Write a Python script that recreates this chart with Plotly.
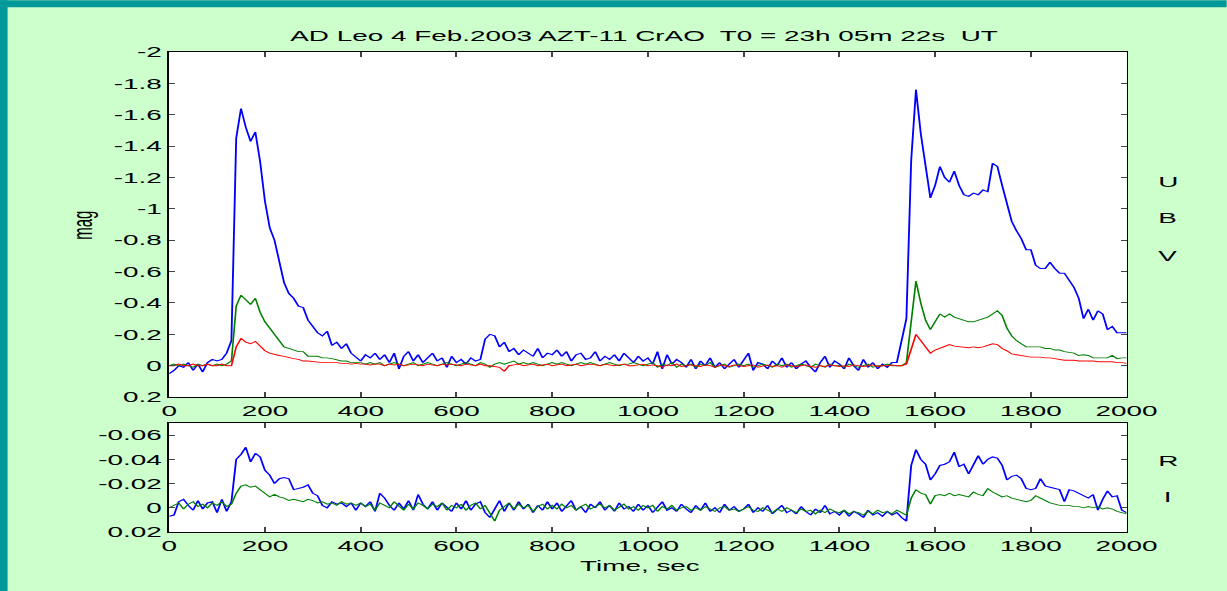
import numpy as np
import plotly.graph_objects as go

# ---------------------------------------------------------------- data
# photometry sampled every 10 s, magnitudes relative to quiescence
time_s = np.arange(0, 2001, 10)

u_mag = [
    0.05, 0.03, 0.00, 0.01, -0.02, 0.03, -0.01, 0.04, -0.02, -0.04,
    -0.03, -0.04, -0.08, -0.16, -1.45, -1.64, -1.52, -1.43, -1.49, -1.30,
    -1.05, -0.88, -0.80, -0.65, -0.53, -0.46, -0.43, -0.38, -0.37, -0.29,
    -0.25, -0.21, -0.19, -0.22, -0.13, -0.15, -0.11, -0.14, -0.08, -0.05,
    -0.03, -0.07, -0.05, -0.08, -0.04, -0.07, -0.02, -0.08, 0.02, -0.06,
    -0.09, -0.03, -0.07, -0.02, -0.05, -0.08, -0.03, -0.05, 0.01, -0.06,
    -0.02, -0.04, -0.01, -0.05, -0.03, -0.04, -0.17, -0.20, -0.19, -0.12,
    -0.15, -0.09, -0.11, -0.07, -0.10, -0.08, -0.06, -0.11, -0.05, -0.08,
    -0.07, -0.10, -0.06, -0.09, -0.03, -0.07, -0.08, -0.04, -0.05, -0.09,
    -0.03, -0.06, -0.04, -0.07, -0.03, -0.08, -0.05, -0.02, -0.06, -0.03,
    -0.05, -0.01, -0.09, 0.02, -0.07, -0.01, -0.04, -0.02, 0.01, -0.04,
    0.02, -0.03, 0.00, -0.05, 0.01, -0.02, 0.02, -0.01, -0.04, 0.01,
    -0.03, -0.08, 0.03, -0.02, -0.01, 0.02, -0.03, 0.00, -0.05, 0.01,
    -0.02, 0.02, -0.01, -0.03, 0.01, 0.04, -0.02, -0.06, 0.01, -0.03,
    -0.01, 0.02, -0.05, 0.00, 0.03, -0.04, 0.01, -0.02, 0.02, -0.01,
    0.01, -0.02, -0.02, -0.15, -0.30, -1.31, -1.76, -1.48, -1.26, -1.07,
    -1.15, -1.27, -1.20, -1.17, -1.24, -1.15, -1.09, -1.08, -1.10, -1.09,
    -1.12, -1.11, -1.29, -1.27, -1.15, -1.02, -0.92, -0.86, -0.81, -0.74,
    -0.74, -0.64, -0.62, -0.62, -0.66, -0.62, -0.59, -0.59, -0.55, -0.50,
    -0.43, -0.30, -0.36, -0.29, -0.35, -0.33, -0.23, -0.25, -0.21, -0.21,
    -0.21,
]

b_mag = [
    0.00, -0.01, 0.00, -0.01, 0.00, 0.01, -0.01, 0.00, -0.01, 0.00,
    -0.01, 0.00, -0.01, -0.03, -0.38, -0.45, -0.42, -0.39, -0.43, -0.34,
    -0.28, -0.24, -0.19, -0.15, -0.12, -0.11, -0.10, -0.09, -0.09, -0.06,
    -0.06, -0.06, -0.05, -0.05, -0.045, -0.04, -0.03, -0.03, -0.02, -0.02,
    -0.02, -0.01, -0.02, -0.01, -0.02, 0.00, -0.01, -0.02, -0.01, 0.00,
    -0.01, -0.02, 0.00, -0.01, -0.02, -0.01, 0.00, -0.01, -0.02, -0.01,
    0.00, -0.01, -0.02, -0.01, 0.00, -0.02, -0.01, 0.01, -0.01, -0.02,
    -0.01, -0.02, -0.03, -0.01, -0.02, -0.01, -0.02, -0.01, 0.00, -0.01,
    -0.02, -0.01, -0.02, -0.01, 0.00, -0.01, -0.02, -0.01, -0.02, -0.01,
    0.00, -0.01, -0.02, -0.01, 0.00, -0.01, -0.01, -0.02, -0.01, 0.00,
    -0.01, -0.02, 0.01, -0.01, 0.00, -0.02, 0.01, -0.01, 0.00, -0.01,
    0.01, -0.01, 0.00, -0.02, 0.01, 0.00, -0.01, 0.01, 0.00, -0.01,
    0.00, -0.01, 0.01, 0.00, -0.01, 0.00, 0.01, -0.01, 0.00, -0.01,
    0.01, 0.00, -0.01, 0.00, 0.01, -0.01, 0.00, 0.01, -0.01, 0.00,
    0.00, 0.01, -0.01, 0.00, 0.01, 0.00, -0.01, 0.01, 0.00, 0.00,
    -0.01, 0.00, 0.00, 0.00, -0.02, -0.30, -0.54, -0.40, -0.29, -0.23,
    -0.28, -0.33, -0.31, -0.33, -0.31, -0.30, -0.29, -0.28, -0.28, -0.29,
    -0.30, -0.31, -0.33, -0.35, -0.32, -0.24, -0.19, -0.16, -0.14, -0.12,
    -0.12, -0.12, -0.12, -0.11, -0.11, -0.10, -0.10, -0.09, -0.085, -0.08,
    -0.065, -0.07, -0.065, -0.05, -0.05, -0.05, -0.05, -0.065, -0.045, -0.05,
    -0.05,
]

v_mag = [
    0.00, 0.00, -0.01, 0.00, 0.00, -0.01, 0.00, 0.00, -0.01, 0.00,
    0.00, -0.01, 0.00, 0.00, -0.12, -0.175, -0.15, -0.14, -0.155, -0.12,
    -0.095, -0.08, -0.07, -0.065, -0.06, -0.05, -0.045, -0.04, -0.03, -0.03,
    -0.025, -0.025, -0.02, -0.02, -0.02, -0.02, -0.015, -0.015, -0.01, -0.015,
    -0.01, -0.01, -0.005, -0.01, -0.01, 0.00, -0.01, -0.005, -0.01, 0.00,
    -0.005, -0.01, -0.005, 0.00, -0.01, -0.005, 0.00, -0.01, -0.005, -0.01,
    -0.005, 0.00, -0.01, -0.005, 0.00, -0.01, 0.00, 0.00, 0.005, 0.01,
    0.035, 0.00, -0.005, -0.01, 0.00, -0.005, -0.01, 0.00, -0.005, -0.01,
    0.00, -0.005, -0.01, 0.00, -0.005, -0.01, 0.00, -0.005, -0.01, -0.005,
    0.00, -0.01, -0.005, 0.00, -0.005, -0.01, 0.00, 0.00, -0.005, -0.01,
    0.00, -0.005, 0.00, 0.01, -0.005, 0.00, -0.01, 0.005, 0.00, -0.005,
    0.00, 0.005, -0.005, 0.00, 0.01, -0.005, 0.00, 0.005, -0.005, 0.00,
    0.005, 0.00, -0.005, 0.01, 0.00, -0.005, 0.005, 0.00, 0.01, -0.005,
    0.00, 0.005, 0.00, -0.005, 0.005, 0.01, 0.00, 0.005, -0.005, 0.00,
    0.005, 0.00, 0.005, -0.005, 0.00, 0.005, 0.00, -0.005, 0.005, 0.00,
    0.00, -0.005, 0.00, 0.00, -0.01, -0.12, -0.20, -0.16, -0.12, -0.08,
    -0.10, -0.11, -0.12, -0.135, -0.125, -0.12, -0.115, -0.115, -0.12, -0.115,
    -0.12, -0.13, -0.14, -0.135, -0.11, -0.095, -0.075, -0.07, -0.065, -0.06,
    -0.055, -0.055, -0.055, -0.05, -0.05, -0.045, -0.04, -0.035, -0.035, -0.035,
    -0.03, -0.03, -0.03, -0.03, -0.025, -0.025, -0.025, -0.025, -0.02, -0.02,
    -0.015,
]

r_mag = [
    0.007, 0.006, -0.005, -0.007, -0.002, 0.002, -0.006, 0.001, -0.004, -0.005,
    0.004, -0.007, 0.003, -0.005, -0.040, -0.044, -0.050, -0.038, -0.045, -0.042,
    -0.031, -0.027, -0.020, -0.024, -0.025, -0.024, -0.015, -0.016, -0.017, -0.019,
    -0.012, -0.010, -0.002, 0.000, -0.005, -0.003, -0.004, -0.001, -0.004, 0.002,
    -0.004, -0.001, -0.005, 0.003, -0.012, -0.008, -0.002, 0.002, -0.004, 0.001,
    -0.006, 0.002, -0.011, -0.003, 0.001, -0.005, 0.002, -0.004, -0.001, 0.003,
    -0.004, 0.001, -0.006, 0.002, -0.003, -0.005, 0.004, 0.008, 0.001, -0.006,
    0.003, -0.004, 0.002, -0.005, 0.001, -0.003, 0.004, -0.002, 0.002, -0.005,
    0.001, -0.004, 0.003, -0.002, -0.006, 0.002, -0.001, 0.004, -0.003, 0.000,
    -0.005, 0.002, -0.002, 0.003, -0.004, 0.001, -0.001, 0.003, -0.003, 0.002,
    -0.002, 0.004, -0.001, -0.005, 0.002, 0.000, 0.003, -0.003, 0.001, 0.004,
    -0.002, 0.002, -0.004, 0.003, 0.000, 0.004, -0.003, 0.002, -0.001, 0.003,
    0.001, -0.003, 0.004, 0.000, 0.003, -0.002, 0.005, 0.001, -0.002, 0.004,
    0.002, 0.005, -0.001, 0.003, 0.006, 0.001, 0.004, -0.002, 0.005, 0.003,
    0.006, 0.002, 0.007, 0.003, 0.005, 0.008, 0.002, 0.006, 0.004, 0.007,
    0.003, 0.006, 0.004, 0.008, 0.011, -0.035, -0.048, -0.040, -0.036, -0.023,
    -0.028, -0.035, -0.036, -0.038, -0.046, -0.034, -0.036, -0.028, -0.036, -0.043,
    -0.036, -0.040, -0.042, -0.041, -0.035, -0.023, -0.026, -0.027, -0.024, -0.016,
    -0.015, -0.016, -0.024, -0.018, -0.017, -0.016, -0.015, -0.005, -0.015, -0.014,
    -0.012, -0.010, -0.008, -0.011, 0.002, -0.007, -0.014, -0.009, -0.010, 0.002,
    0.004,
]

i_mag = [
    0.000, -0.002, -0.004, 0.001, -0.003, -0.005, -0.001, -0.003, 0.000, -0.004,
    -0.002, -0.005, -0.001, -0.003, -0.012, -0.018, -0.019, -0.017, -0.018, -0.015,
    -0.012, -0.009, -0.011, -0.009, -0.008, -0.006, -0.007, -0.006, -0.005, -0.007,
    -0.006, -0.004, -0.005, -0.003, -0.004, -0.002, -0.005, -0.003, -0.004, -0.002,
    -0.004, -0.001, -0.003, 0.002, -0.004, -0.002, 0.000, -0.005, -0.001, 0.002,
    -0.003, 0.001, -0.004, -0.002, 0.001, -0.003, -0.001, -0.004, 0.002, -0.002,
    0.000, -0.003, 0.002, -0.002, -0.004, 0.001, -0.002, 0.004, 0.011, 0.002,
    -0.001, -0.004, 0.001, -0.003, 0.000, -0.002, 0.003, -0.001, -0.003, 0.001,
    -0.002, 0.001, -0.003, 0.000, -0.002, 0.002, -0.001, -0.003, 0.001, -0.001,
    -0.003, 0.000, -0.002, 0.002, -0.001, -0.003, 0.001, -0.001, 0.002, -0.002,
    0.000, -0.002, 0.003, -0.001, 0.001, -0.002, 0.002, 0.000, -0.001, 0.002,
    0.000, 0.002, -0.001, 0.001, 0.003, 0.000, -0.001, 0.002, 0.001, 0.003,
    0.001, -0.001, 0.002, 0.003, 0.000, 0.002, 0.004, 0.001, 0.003, 0.000,
    0.002, 0.004, 0.001, 0.003, 0.002, 0.005, 0.002, 0.004, 0.001, 0.003,
    0.004, 0.002, 0.005, 0.003, 0.004, 0.006, 0.003, 0.005, 0.002, 0.004,
    0.003, 0.005, 0.002, 0.004, 0.006, -0.008, -0.015, -0.012, -0.011, -0.003,
    -0.010, -0.011, -0.010, -0.012, -0.010, -0.011, -0.010, -0.009, -0.013, -0.011,
    -0.010, -0.016, -0.013, -0.011, -0.009, -0.010, -0.008, -0.007, -0.006, -0.005,
    -0.006, -0.010, -0.008, -0.006, -0.004, -0.003, -0.002, -0.002, -0.002, -0.001,
    -0.001, 0.000, -0.001, 0.000, -0.001, 0.001, 0.000, 0.001, 0.003, 0.004,
    0.005,
]

for series in (u_mag, b_mag, v_mag, r_mag, i_mag):
    assert len(series) == len(time_s)

mag_tickvals = [-2, -1.8, -1.6, -1.4, -1.2, -1, -0.8, -0.6, -0.4, -0.2, 0, 0.2]
mag_ticktext = ["-2", "-1.8", "-1.6", "-1.4", "-1.2", "-1", "-0.8", "-0.6",
                "-0.4", "-0.2", "0", "0.2"]
ri_tickvals = [-0.06, -0.04, -0.02, 0, 0.02]
ri_ticktext = ["-0.06", "-0.04", "-0.02", "0", "0.02"]
time_tickvals = [0, 200, 400, 600, 800, 1000, 1200, 1400, 1600, 1800, 2000]

# ---------------------------------------------------------------- geometry
# The figure is laid out at a narrow width and widened on the page with a
# horizontal CSS scale, giving the wide-stretched look of the original plot.
PAGE_W, H = 1227, 591
W0 = 660
SX = PAGE_W / W0

PLOT_L, PLOT_R = 170, 1127          # page pixels
TOP_Y0, TOP_Y1 = 51.7, 397          # upper panel
BOT_Y0, BOT_Y1 = 423, 532           # lower panel

L = PLOT_L / SX
R = W0 - PLOT_R / SX
T = TOP_Y0
B = H - BOT_Y1
PW = W0 - L - R
PH = H - T - B


def xp(px):
    """page x pixel -> paper x"""
    return (px / SX - L) / PW


def yp(py):
    """page y pixel -> paper y"""
    return (H - B - py) / PH


FONT = "Arial, Liberation Sans, sans-serif"
TEAL = "#009999"
PALE = "#ccffcc"

fig = go.Figure()

top_series = [(u_mag, "U", "#0000ff", 1.0), (b_mag, "B", "#008000", 0.9),
              (v_mag, "V", "#ff0000", 0.9)]
for vals, name, col, w in top_series:
    fig.add_trace(go.Scatter(x=time_s, y=vals, name=name, mode="lines",
                             line=dict(color=col, width=w),
                             xaxis="x", yaxis="y"))

bot_series = [(r_mag, "R", "#0000ff", 1.0), (i_mag, "I", "#008000", 0.9)]
for vals, name, col, w in bot_series:
    fig.add_trace(go.Scatter(x=time_s, y=vals, name=name, mode="lines",
                             line=dict(color=col, width=w),
                             xaxis="x2", yaxis="y2"))

axis_common = dict(showline=True, linecolor="black", linewidth=1,
                   mirror="ticks", ticks="inside", tickcolor="#444",
                   showgrid=False, zeroline=False,
                   tickfont=dict(family=FONT, size=15, color="black"))

fig.update_layout(
    width=W0, height=H,
    margin=dict(l=L, r=R, t=T, b=B, pad=0),
    paper_bgcolor=PALE, plot_bgcolor="white",
    showlegend=False,
    font=dict(family=FONT, size=15, color="black"),
    xaxis=dict(domain=[0, 1], anchor="y", range=[0, 2000],
               tickmode="array", tickvals=time_tickvals, ticklen=5,
               **axis_common),
    yaxis=dict(domain=[(BOT_Y1 - TOP_Y1) / PH, 1], anchor="x",
               range=[0.2, -2], tickmode="array", tickvals=mag_tickvals,
               ticktext=mag_ticktext, ticklen=3, **axis_common),
    xaxis2=dict(domain=[0, 1], anchor="y2", range=[0, 2000],
                tickmode="array", tickvals=time_tickvals, ticklen=5,
                **axis_common),
    yaxis2=dict(domain=[0, (BOT_Y1 - BOT_Y0) / PH], anchor="x2",
                range=[0.02, -0.07], tickmode="array", tickvals=ri_tickvals,
                ticktext=ri_ticktext, ticklen=3, **axis_common),
)

# teal frame strips along the left and top edges of the page
fig.add_shape(type="rect", xref="paper", yref="paper",
              x0=xp(0), x1=xp(8.5), y0=yp(H), y1=yp(0),
              fillcolor=TEAL, line=dict(width=0), layer="below")
fig.add_shape(type="rect", xref="paper", yref="paper",
              x0=xp(0), x1=xp(PAGE_W), y0=yp(7), y1=yp(0),
              fillcolor=TEAL, line=dict(width=0), layer="below")


def label(text, px, py, angle=0, size=15):
    fig.add_annotation(text=text, x=xp(px), y=yp(py), xref="paper",
                       yref="paper", showarrow=False, textangle=angle,
                       xanchor="center", yanchor="middle",
                       font=dict(family=FONT, size=size, color="black"))


label("AD Leo 4 Feb.2003 AZT-11 CrAO  T0 = 23h 05m 22s  UT", 645, 35)
label("mag", 82, 225, angle=-90)
label("Time, sec", 641, 566)
for txt, py in (("U", 181), ("B", 217), ("V", 255), ("R", 460), ("I", 496)):
    label(txt, 1168, py)

stretch_js = (
    "document.body.style.margin='0';"
    "document.body.style.overflow='hidden';"
    "var gd=document.getElementById('{plot_id}');"
    "gd.style.transformOrigin='0 0';"
    "gd.style.transform='scaleX(" + repr(SX) + ")';"
)

fig.write_html("out.html", include_plotlyjs=True,
               config={"displayModeBar": False},
               post_script=stretch_js)
